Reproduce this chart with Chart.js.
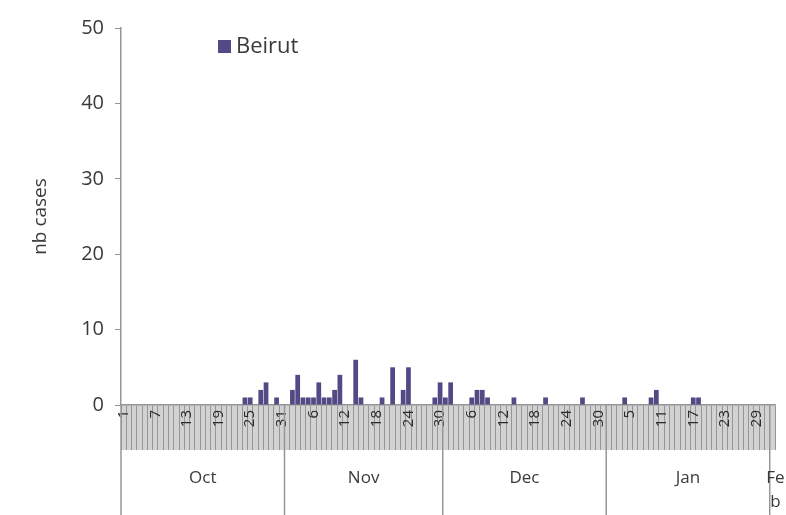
<!DOCTYPE html>
<html><head><meta charset="utf-8">
<script src="https://cdn.jsdelivr.net/npm/chart.js@4/dist/chart.umd.min.js"></script>
<style>html,body{margin:0;padding:0;background:#fff}canvas{display:block}</style>
</head><body>
<canvas id="c" width="786" height="515"></canvas>
<script>
// ---- data ----
const months = ['Oct', 'Nov', 'Dec', 'Jan', 'Feb'];
const monthDays = [31, 30, 31, 31, 1];
const seriesName = 'Beirut';
const yTicks = [0, 10, 20, 30, 40, 50];
// daily case counts, one value per day of each month
const octCases = [0,0,0,0,0,0,0,0,0,0, 0,0,0,0,0,0,0,0,0,0, 0,0,0,1,1,0,2,3,0,1, 0];
const novCases = [0,2,4,1,1,1,3,1,1,2, 4,0,0,6,1,0,0,0,1,0, 5,0,2,5,0,0,0,0,1,3];
const decCases = [1,3,0,0,0,1,2,2,1,0, 0,0,0,1,0,0,0,0,0,1, 0,0,0,0,0,0,1,0,0,0, 0];
const janCases = [0,0,0,1,0,0,0,0,1,2, 0,0,0,0,0,0,1,1,0,0, 0,0,0,0,0,0,0,0,0,0, 0];
const febCases = [0];

const monthCases = [octCases, novCases, decCases, janCases, febCases];
const dayLabels = [];
const values = [];
monthDays.forEach((n, m) => {
  for (let d = 1; d <= n; d++) { dayLabels.push(String(d)); values.push(monthCases[m][d - 1]); }
});
const labelEvery = 6;

const FONT = '"Open Sans", Lato, sans-serif';
const TXT = '#3a3a3a';
const GRID = '#969696';
const BAR = '#554985';

const bandPlugin = {
  id: 'band',
  beforeDraw(chart) {
    const {ctx, chartArea: a} = chart;
    ctx.save();
    ctx.fillStyle = '#d2d2d2';
    ctx.fillRect(a.left, a.bottom, a.right - a.left, 45);
    ctx.restore();
  },
  afterDraw(chart) {
    const {ctx, chartArea: a, scales: {x}} = chart;
    const top = a.bottom + 45, bottom = chart.height;
    const half = (x.getPixelForValue(1) - x.getPixelForValue(0)) / 2;
    ctx.save();
    ctx.strokeStyle = GRID;
    ctx.lineWidth = 1.5;
    let idx = 0;
    months.forEach((name, m) => {
      const x0 = x.getPixelForValue(idx) - half;
      const x1 = x.getPixelForValue(idx + monthDays[m] - 1) + half;
      ctx.beginPath(); ctx.moveTo(x0, a.bottom); ctx.lineTo(x0, bottom); ctx.stroke();
      ctx.fillStyle = TXT;
      ctx.font = '17px ' + FONT;
      ctx.textAlign = 'center';
      ctx.textBaseline = 'middle';
      const cx = (x0 + x1) / 2;
      if (monthDays[m] > 3) {
        ctx.fillText(name, cx, top + 28);
      } else {
        ctx.fillText(name.slice(0, 2), cx + 3, top + 28);
        ctx.fillText(name.slice(2), cx + 3, top + 52);
      }
      idx += monthDays[m];
    });
    // legend
    const ds = chart.data.datasets[0];
    ctx.fillStyle = ds.backgroundColor;
    ctx.fillRect(218, 40, 13, 13);
    ctx.fillStyle = TXT;
    ctx.font = '22px ' + FONT;
    ctx.textAlign = 'left';
    ctx.textBaseline = 'middle';
    ctx.fillText(ds.label, 236, 47);
    ctx.restore();
  }
};

new Chart(document.getElementById('c'), {
  type: 'bar',
  data: {
    labels: dayLabels,
    datasets: [{
      label: seriesName,
      data: values,
      backgroundColor: BAR,
      borderWidth: 0,
      barPercentage: 1,
      categoryPercentage: 0.9
    }]
  },
  options: {
    responsive: false,
    animation: false,
    devicePixelRatio: 1,
    layout: {padding: {top: 28, right: 11, bottom: 65, left: 0}},
    plugins: {legend: {display: false}, tooltip: {enabled: false}},
    scales: {
      x: {
        offset: true,
        afterFit(s) { s.height = 45; },
        grid: {display: true, drawOnChartArea: false, offset: true, tickLength: 45, color: GRID, lineWidth: 1},
        border: {display: true, color: GRID, width: 1.5},
        ticks: {
          autoSkip: false, maxRotation: 90, minRotation: 90, padding: -40,
          color: '#2a2a2a', font: {family: FONT, size: 15},
          callback(v, i) { return i % labelEvery === 0 ? dayLabels[i] : ''; }
        }
      },
      y: {
        min: yTicks[0], max: yTicks[yTicks.length - 1],
        afterFit(s) { s.width = 121; },
        afterBuildTicks(s) { s.ticks = yTicks.map(v => ({value: v})); },
        grid: {display: true, drawOnChartArea: false, tickLength: 6, color: GRID},
        border: {display: true, color: GRID, width: 1.5},
        ticks: {padding: 11, color: TXT, font: {family: FONT, size: 20}},
        title: {display: true, text: 'nb cases', color: TXT, font: {family: FONT, size: 19}, padding: {top: 29, bottom: 0}}
      }
    }
  },
  plugins: [bandPlugin]
});
</script>
</body></html>
